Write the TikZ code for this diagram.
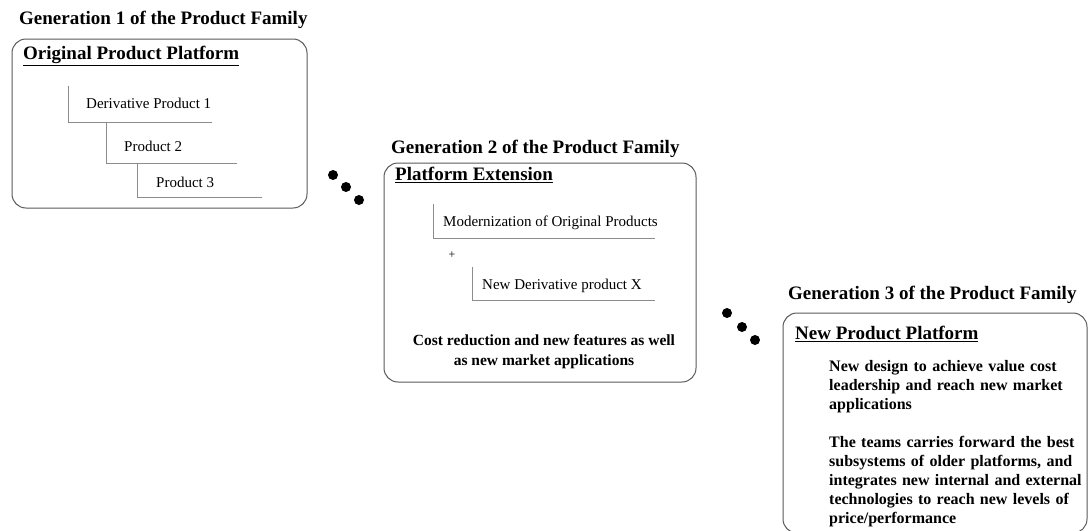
\documentclass[tikz,border=0pt]{standalone}
\usepackage{fontspec}
\setmainfont{Liberation Serif}
\begin{document}
\begin{tikzpicture}[x=1pt,y=-1pt,
  title/.style={anchor=west,inner sep=0pt,font=\fontsize{19}{21}\selectfont\bfseries},
  head/.style={anchor=west,inner sep=0pt,font=\fontsize{19}{21}\selectfont\bfseries},
  item/.style={anchor=west,inner sep=0pt,font=\fontsize{15}{17}\selectfont},
  para/.style={anchor=north west,inner sep=0pt,align=left,font=\fontsize{16}{19}\selectfont\bfseries},
  frame/.style={draw=black!65,line width=1pt,rounded corners=14pt},
  tree/.style={draw=black!45,line width=1pt},
  dot/.style={fill=black}]
\useasboundingbox (0,0) rectangle (1089,530);
\begin{scope}
\clip (0,0) rectangle (1089,530);
% Generation 1
\node[title] (t1) at (19,20) {Generation 1 of the Product Family};
\draw[frame] (12,39) rectangle (307,208);
\node[head] (h1) at (23,56) {\underline{Original Product Platform}};
\draw[tree] (68,86) -- (68,122) -- (212,122);
\node[item] (p1) at (86,103) {Derivative Product 1};
\draw[tree] (106,122) -- (106,163) -- (237,163);
\node[item] (p2) at (124,146) {Product 2};
\draw[tree] (137,163) -- (137,197) -- (262,197);
\node[item] (p3) at (156,182) {Product 3};
% dots 1
\fill[dot] (333,175) circle (5);
\fill[dot] (346,187) circle (5);
\fill[dot] (359,200) circle (5);
% Generation 2
\node[title] (t2) at (391,149) {Generation 2 of the Product Family};
\draw[frame] (384,163) rectangle (696,382);
\node[head] (h2) at (395,175) {\underline{Platform Extension}};
\draw[tree] (433,204) -- (433,238) -- (655,238);
\node[item] (m1) at (443,223) {Modernization of Original Products};
\node[inner sep=0pt,font=\fontsize{12}{14}\selectfont] (plus) at (452,255) {+};
\draw[tree] (472,267) -- (472,300) -- (655,300);
\node[item] (m2) at (482,286) {New Derivative product X};
\node[inner sep=0pt,align=center,font=\fontsize{15.5}{20}\selectfont\bfseries] (cost) at (544,352) {Cost reduction and new features as well\\as new market applications};
% dots 2
\fill[dot] (727,313) circle (5);
\fill[dot] (742,327) circle (5);
\fill[dot] (755,340) circle (5);
% Generation 3
\node[title] (t3) at (788,295) {Generation 3 of the Product Family};
\draw[frame] (783,313) rectangle (1087,533);
\node[head] (h3) at (795,334) {\underline{New Product Platform}};
\node[para,text width=260pt] (d1) at (829,360) {New design to achieve value cost\\leadership and reach new market\\applications};
\node[para,text width=260pt] (d2) at (829,436) {The teams carries forward the best\\subsystems of older platforms, and\\integrates new internal and external\\technologies to reach new levels of\\price/performance};
\end{scope}
\end{tikzpicture}
\end{document}
